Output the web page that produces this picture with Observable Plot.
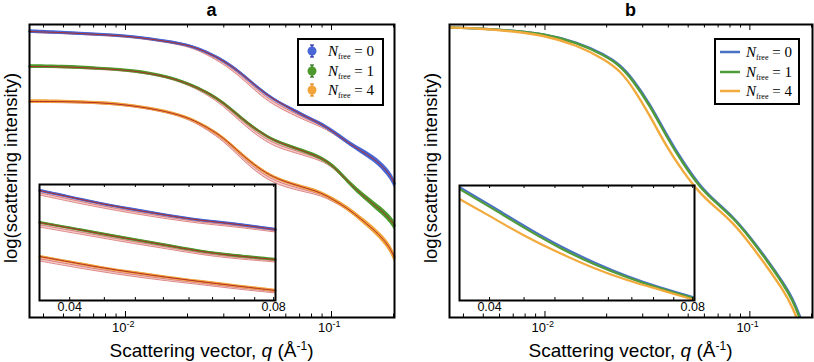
<!DOCTYPE html>
<html><head><meta charset="utf-8">
<script src="https://cdn.jsdelivr.net/npm/d3@7"></script>
<script src="https://cdn.jsdelivr.net/npm/@observablehq/plot@0.6"></script>
<style>
body{margin:0;background:#fff;font-family:"Liberation Sans",Arial,sans-serif;}
#wrap{position:relative;width:814px;height:362px;overflow:hidden;background:#fff;}
.abs{position:absolute;}
.title{font-weight:bold;font-size:18px;line-height:20px;transform:translateX(-50%);}
.xlab{font-size:19px;line-height:22px;white-space:nowrap;transform:translateX(-50%);}
.xlab sup{font-size:12px;vertical-align:7px;line-height:0;}
.ylab{font-size:18.5px;line-height:22px;white-space:nowrap;transform:translate(-50%,-50%) rotate(-90deg);}
.legend{border:2px solid #000;background:#fff;box-sizing:border-box;font-family:"Liberation Serif","Times New Roman",serif;font-size:15px;}
.row{position:absolute;left:0;height:20px;display:flex;align-items:center;white-space:nowrap;}
.row sub{font-size:8px;font-style:normal;vertical-align:-3px;line-height:0;}
</style></head><body><div id="wrap"></div>
<script>
// ---------- data (log intensity in arbitrary units) ----------
const qA = [0.00342, 0.00484, 0.00756, 0.0109, 0.0160, 0.0207, 0.0250, 0.0299, 0.0362, 0.0437, 0.0523, 0.0632, 0.0765, 0.0884, 0.102, 0.120, 0.138, 0.160, 0.179, 0.193, 0.202];
const fitA0 = [286, 285, 283, 281, 276, 272, 265, 257, 245, 230, 218, 209, 200, 194, 186, 175, 167, 159, 150, 142, 134];
const fitA1 = [251, 251, 249, 247, 241, 233, 225, 215, 200, 187, 177, 171, 165, 160, 152, 136, 124, 113, 105, 98, 92];
const fitA4 = [216, 216, 215, 212, 206, 199, 190, 180, 164, 150, 140, 134, 129, 125, 118, 109, 99, 88, 78, 69, 60];
const bandA = [1, 1, 1, 1, 1, 1.5, 2.5, 3.5, 4.5, 5.5, 5.5, 5, 4, 3, 2, 1.5, 1, 1, 1, 1, 1];
const spreadA = [1.8, 1.5, 1.3, 1.3, 1.3, 1.3, 1.3, 1.3, 1.3, 1.3, 1.3, 1.4, 1.6, 1.8, 2, 2.3, 2.7, 3.2, 3.6, 4, 4.5];

const qInsetA = [0.0361, 0.0397, 0.0443, 0.0496, 0.0559, 0.0623, 0.0695, 0.0805];
const insetA0 = [110, 104, 97, 91, 85, 80, 77, 71];
const insetA1 = [78, 73, 67, 61, 55, 49, 45, 41];
const insetA4 = [44, 39, 33, 28, 23, 19, 15, 10];
const insetBandA = [4.5, 4.5, 4, 4, 3.5, 3, 3, 2.5];

const qB = [0.00340, 0.00482, 0.00675, 0.00978, 0.0143, 0.0196, 0.0232, 0.0269, 0.0325, 0.0394, 0.0471, 0.0570, 0.0690, 0.0826, 0.100, 0.121, 0.145, 0.162, 0.175, 0.188];
const lineB0 = [290, 289, 287, 284, 275.5, 263, 253, 238.5, 214, 182, 156, 131.5, 115, 101, 81, 58.5, 35.5, 19, 2, -15];
const lineB1 = [290, 289, 287, 284, 275, 262, 252, 237, 212, 180, 154, 130, 114, 100, 80, 57, 34, 17, 0, -18];
const lineB4 = [290, 289, 286.5, 282.5, 272.5, 258, 247, 230, 202, 170, 146, 124, 109, 95, 74, 51, 28, 10, -8, -26];

const qInsetB = [0.0360, 0.0404, 0.0454, 0.0509, 0.0571, 0.0640, 0.0714, 0.0805];
const insetB0 = [114, 94, 73, 54, 38, 24, 13, 3];
const insetB1 = [112, 92, 71, 52, 36, 23, 12, 2];
const insetB4 = [102, 83, 63, 47, 32, 20, 11, 0.5];

const nFree = ["0", "1", "4"];
const majorTicks = [0.01, 0.1];
const majorExp = ["-2", "-1"];
const minorTicks = [0.004, 0.005, 0.006, 0.007, 0.008, 0.009, 0.02, 0.03, 0.04, 0.05, 0.06, 0.07, 0.08, 0.09, 0.2];
const insetTicks = [0.04, 0.045, 0.05, 0.055, 0.06, 0.065, 0.07, 0.075, 0.08];
const insetLabels = [0.04, 0.08];
const qDomain = [0.00342, 0.2022];
const insetDomain = [0.0361, 0.0805];

// ---------- styles ----------
const colA = ["#4867d4", "#4c9a2c", "#f2a33a"];
const colA_dark = ["#2a2aa8", "#2d6a1c", "#e0881a"];
const colB = ["#4a72c4", "#4f9b3a", "#f2aa3c"];
const fitColor = "#b02e2a", bandStroke = "#d46a66", bandFill = "#f3caca";
const curve = "basis";
const font = "Liberation Sans, Arial, sans-serif";
const wrap = document.getElementById("wrap");

function place(node, left, top, w) {
  const d = document.createElement("div");
  d.className = "abs"; d.style.left = left + "px"; d.style.top = top + "px";
  if (w) d.style.width = w + "px";
  d.appendChild(node); wrap.appendChild(d); return d;
}
function html(cls, left, top, inner) {
  const d = document.createElement("div");
  d.className = "abs " + cls; d.style.left = left + "px"; d.style.top = top + "px";
  d.innerHTML = inner; wrap.appendChild(d); return d;
}
function ticks(list, len, h) {
  return [
    Plot.ruleX(list, {x: d => d, insetTop: h - len, stroke: "black", strokeWidth: 1}),
    Plot.ruleX(list, {x: d => d, insetBottom: h - len, stroke: "black", strokeWidth: 1})
  ];
}
function fitMarks(qs, vals, band, spread, color, dataW) {
  const rows = qs.map((q, i) => ({q, v: vals[i], b: band[i], s: spread ? spread[i] : 1.2}));
  return [
    Plot.areaY(rows, {x: "q", y1: d => d.v - d.b, y2: "v", fill: bandFill, curve}),
    Plot.line(rows, {x: "q", y: d => d.v - d.b, stroke: bandStroke, strokeWidth: 0.8, curve}),
    Plot.line(rows, {x: "q", y: d => d.v - d.b * 0.5, stroke: bandStroke, strokeWidth: 0.8, curve}),
    Plot.areaY(rows, {x: "q", y1: d => d.v - d.s, y2: d => d.v + d.s, fill: color, curve}),
    Plot.line(rows, {x: "q", y: "v", stroke: color, strokeWidth: dataW, curve}),
    Plot.line(rows, {x: "q", y: "v", stroke: fitColor, strokeWidth: 1, curve})
  ];
}
function axisLabels() {
  return [
    Plot.text(majorTicks, {x: d => d, text: () => "10", frameAnchor: "bottom", textAnchor: "end", dx: 1, dy: 14, fontSize: 13, fill: "black"}),
    Plot.text(majorTicks, {x: d => d, text: (d, i) => majorExp[i], frameAnchor: "bottom", textAnchor: "start", dx: 1, dy: 9, fontSize: 9, fill: "black"})
  ];
}

// ---------- panel a ----------
const hA = 293;
const plotA = Plot.plot({
  width: 407, height: 362, marginLeft: 29, marginRight: 13, marginTop: 24, marginBottom: 45,
  style: {fontFamily: font, background: "transparent", overflow: "visible"},
  x: {type: "log", domain: qDomain, axis: null},
  y: {domain: [0, hA], axis: null},
  marks: [
    ...fitMarks(qA, fitA0, bandA, spreadA, colA[0], 2.6),
    ...fitMarks(qA, fitA1, bandA, spreadA, colA[1], 2.6),
    ...fitMarks(qA, fitA4, bandA, spreadA, colA[2], 2.6),
    ...ticks(majorTicks, 6, hA), ...ticks(minorTicks, 3.5, hA),
    ...axisLabels(),
    Plot.frame({stroke: "black", strokeWidth: 2})
  ]
});
place(plotA, 0, 0, 407);

// inset a
const hIA = 116;
const insetA = Plot.plot({
  width: 256, height: 140, marginLeft: 10, marginRight: 10, marginTop: 2, marginBottom: 22,
  style: {fontFamily: font, background: "transparent", overflow: "visible"},
  x: {type: "log", domain: insetDomain, axis: null},
  y: {domain: [0, hIA], axis: null},
  marks: [
    Plot.frame({fill: "white"}),
    ...fitMarks(qInsetA, insetA0, insetBandA, null, colA[0], 2.4),
    ...fitMarks(qInsetA, insetA1, insetBandA, null, colA[1], 2.4),
    ...fitMarks(qInsetA, insetA4, insetBandA, null, colA[2], 2.4),
    ...ticks(insetTicks, 3, hIA),
    Plot.text(insetLabels, {x: d => d, text: d => d.toFixed(2), frameAnchor: "bottom", dy: 10, fontSize: 12.5, fill: "black"}),
    Plot.frame({stroke: "black", strokeWidth: 2})
  ]
});
place(insetA, 29, 182, 256);

// ---------- panel b ----------
const hB = 293;
const plotB = Plot.plot({
  width: 407, height: 362, marginLeft: 42, marginRight: 2, marginTop: 24, marginBottom: 45,
  style: {fontFamily: font, background: "transparent", overflow: "visible"},
  x: {type: "log", domain: qDomain, axis: null},
  y: {domain: [0, hB], axis: null},
  marks: [
    Plot.line(qB.map((q, i) => ({q, v: lineB0[i]})), {x: "q", y: "v", stroke: colB[0], strokeWidth: 2.4, curve, clip: true}),
    Plot.line(qB.map((q, i) => ({q, v: lineB1[i]})), {x: "q", y: "v", stroke: colB[1], strokeWidth: 2.4, curve, clip: true}),
    Plot.line(qB.map((q, i) => ({q, v: lineB4[i]})), {x: "q", y: "v", stroke: colB[2], strokeWidth: 2.4, curve, clip: true}),
    ...ticks(majorTicks, 6, hB), ...ticks(minorTicks, 3.5, hB),
    ...axisLabels(),
    Plot.frame({stroke: "black", strokeWidth: 2})
  ]
});
place(plotB, 407, 0, 407);

// inset b
const hIB = 115;
const insetB = Plot.plot({
  width: 255, height: 139, marginLeft: 10, marginRight: 10, marginTop: 2, marginBottom: 22,
  style: {fontFamily: font, background: "transparent", overflow: "visible"},
  x: {type: "log", domain: insetDomain, axis: null},
  y: {domain: [0, hIB], axis: null},
  marks: [
    Plot.frame({fill: "white"}),
    Plot.line(qInsetB.map((q, i) => ({q, v: insetB0[i]})), {x: "q", y: "v", stroke: colB[0], strokeWidth: 2.2, curve, clip: true}),
    Plot.line(qInsetB.map((q, i) => ({q, v: insetB1[i]})), {x: "q", y: "v", stroke: colB[1], strokeWidth: 2.2, curve, clip: true}),
    Plot.line(qInsetB.map((q, i) => ({q, v: insetB4[i]})), {x: "q", y: "v", stroke: colB[2], strokeWidth: 2.2, curve, clip: true}),
    ...ticks(insetTicks, 3, hIB),
    Plot.text(insetLabels, {x: d => d, text: d => d.toFixed(2), frameAnchor: "bottom", dy: 10, fontSize: 12.5, fill: "black"}),
    Plot.frame({stroke: "black", strokeWidth: 2})
  ]
});
place(insetB, 449, 183, 255);

// ---------- titles and axis labels ----------
html("title", 211.5, 0, "a");
html("title", 630.5, 0, "b");
const xl = "Scattering vector, <i>q</i> (Å<sup>-1</sup>)";
html("xlab", 211.5, 340, xl);
html("xlab", 630.5, 340, xl);
html("ylab", 11, 168, "log(scattering intensity)");
html("ylab", 431, 168, "log(scattering intensity)");

// ---------- legends ----------
function legend(left, top, w, h, rowsY, swatch) {
  const L = document.createElement("div");
  L.className = "abs legend";
  Object.assign(L.style, {left: left + "px", top: top + "px", width: w + "px", height: h + "px"});
  nFree.forEach((n, i) => {
    const r = document.createElement("div");
    r.className = "row";
    r.style.top = (rowsY[i] - top - 2 - 10) + "px";
    r.innerHTML = swatch(i) + `<span style="margin-left:4px"><i>N</i><sub>free</sub> = ${n}</span>`;
    L.appendChild(r);
  });
  wrap.appendChild(L);
}
legend(297, 38, 87, 68, [51, 71, 90], i =>
  `<svg width="24" height="20" style="margin-left:1px;display:block">
     <line x1="12" x2="12" y1="4" y2="16" stroke="${colA_dark[i]}" stroke-width="1.5"/>
     <line x1="10" x2="14" y1="4" y2="4" stroke="${colA_dark[i]}" stroke-width="1.2"/>
     <line x1="10" x2="14" y1="16" y2="16" stroke="${colA_dark[i]}" stroke-width="1.2"/>
     <circle cx="12" cy="10" r="4.5" fill="${colA[i]}"/></svg>`);
legend(714, 38, 86, 67, [52, 72, 91], i =>
  `<svg width="24" height="20" style="margin-left:2px;display:block">
     <line x1="2" x2="22" y1="10" y2="10" stroke="${colB[i]}" stroke-width="2.5"/></svg>`);
</script></body></html>
